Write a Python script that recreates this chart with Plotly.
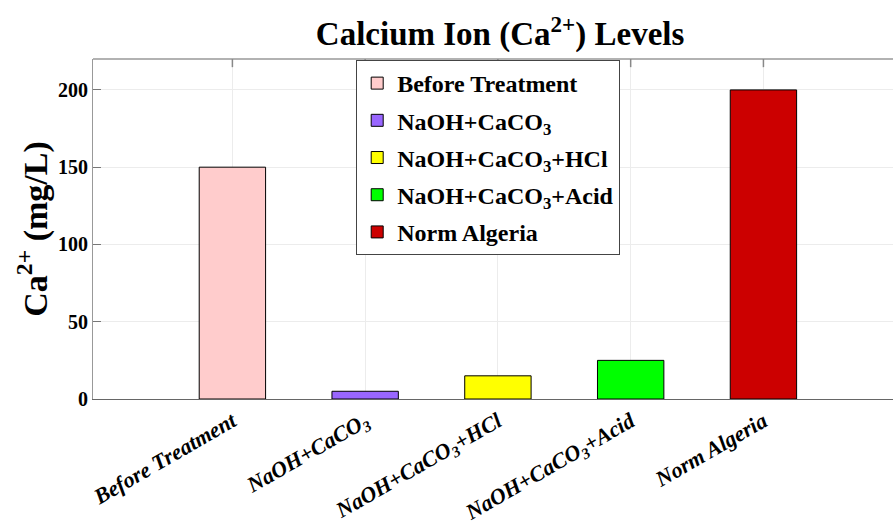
import plotly.graph_objects as go

categories = ["Before Treatment", "NaOH+CaCO3", "NaOH+CaCO3+HCl", "NaOH+CaCO3+Acid", "Norm Algeria"]
tick_labels = ["Before Treatment", "NaOH+CaCO<sub>3</sub>", "NaOH+CaCO<sub>3</sub>+HCl",
               "NaOH+CaCO<sub>3</sub>+Acid", "Norm Algeria"]
values = [150, 5, 15, 25, 200]
colors = ["#FFCCCC", "#9966FF", "#FFFF00", "#00FF00", "#CC0000"]
y_ticks = [0, 50, 100, 150, 200]

FONT = "Liberation Serif, Times New Roman, serif"

fig = go.Figure()
for cat, lab, v, c in zip(categories, tick_labels, values, colors):
    fig.add_trace(go.Bar(x=[cat], y=[v], name="<b>" + lab + "</b>", width=0.5,
                         legendgroup=cat,
                         marker=dict(color=c, line=dict(color="black", width=1))))

fig.update_layout(
    width=893, height=522,
    margin=dict(l=93, r=0, t=59, b=123),
    paper_bgcolor="white", plot_bgcolor="white",
    barmode="overlay",
    font=dict(family=FONT, color="black"),
    title=dict(text="<b>Calcium Ion (Ca<sup>2+</sup>) Levels</b>", x=0.56, xanchor="center",
               y=0.935, yanchor="middle", font=dict(size=33, family=FONT, color="black")),
    legend=dict(x=0.329, y=0.997, xanchor="left", yanchor="top",
                bgcolor="white", bordercolor="#444", borderwidth=1,
                font=dict(size=24, family=FONT, color="black"),
                itemwidth=30, traceorder="grouped", tracegroupgap=3),
    xaxis=dict(type="category", categoryorder="array", categoryarray=categories,
               range=[-1.05, 4.976], tickmode="array", tickvals=categories,
               ticktext=["<b><i>" + t + "</i></b>" for t in tick_labels],
               tickangle=-30, tickfont=dict(size=22, family=FONT, color="black"),
               showgrid=True, gridcolor="#ececec", gridwidth=1,
               showline=True, linecolor="#666", linewidth=1,
               ticks="", zeroline=False, automargin=False),
    yaxis=dict(range=[0, 220], tickvals=y_ticks,
               ticktext=["<b>%d</b>" % v for v in y_ticks],
               tickfont=dict(size=20, family=FONT, color="black"),
               showgrid=True, gridcolor="#ececec", gridwidth=1,
               showline=True, linecolor="#999", linewidth=1,
               ticks="inside", ticklen=8, tickcolor="#777",
               zeroline=False, automargin=False,
               title=dict(text="<b>Ca<sup>2+</sup> (mg/L)</b>", font=dict(size=34, family=FONT, color="black"),
                          standoff=0)),
    showlegend=True,
)

# top border line
fig.add_shape(type="line", xref="paper", yref="paper", x0=0, x1=1, y0=1, y1=1,
              line=dict(color="#999", width=1.5))
# inside ticks at top for each category
for cat in categories:
    fig.add_shape(type="line", xref="x", yref="paper", x0=cat, x1=cat, y0=1, y1=0.976,
                  line=dict(color="#888", width=1.5))

fig.write_html("out.html", config={"displayModeBar": False},
               post_script="document.body.style.margin='0';document.body.style.padding='0';")
